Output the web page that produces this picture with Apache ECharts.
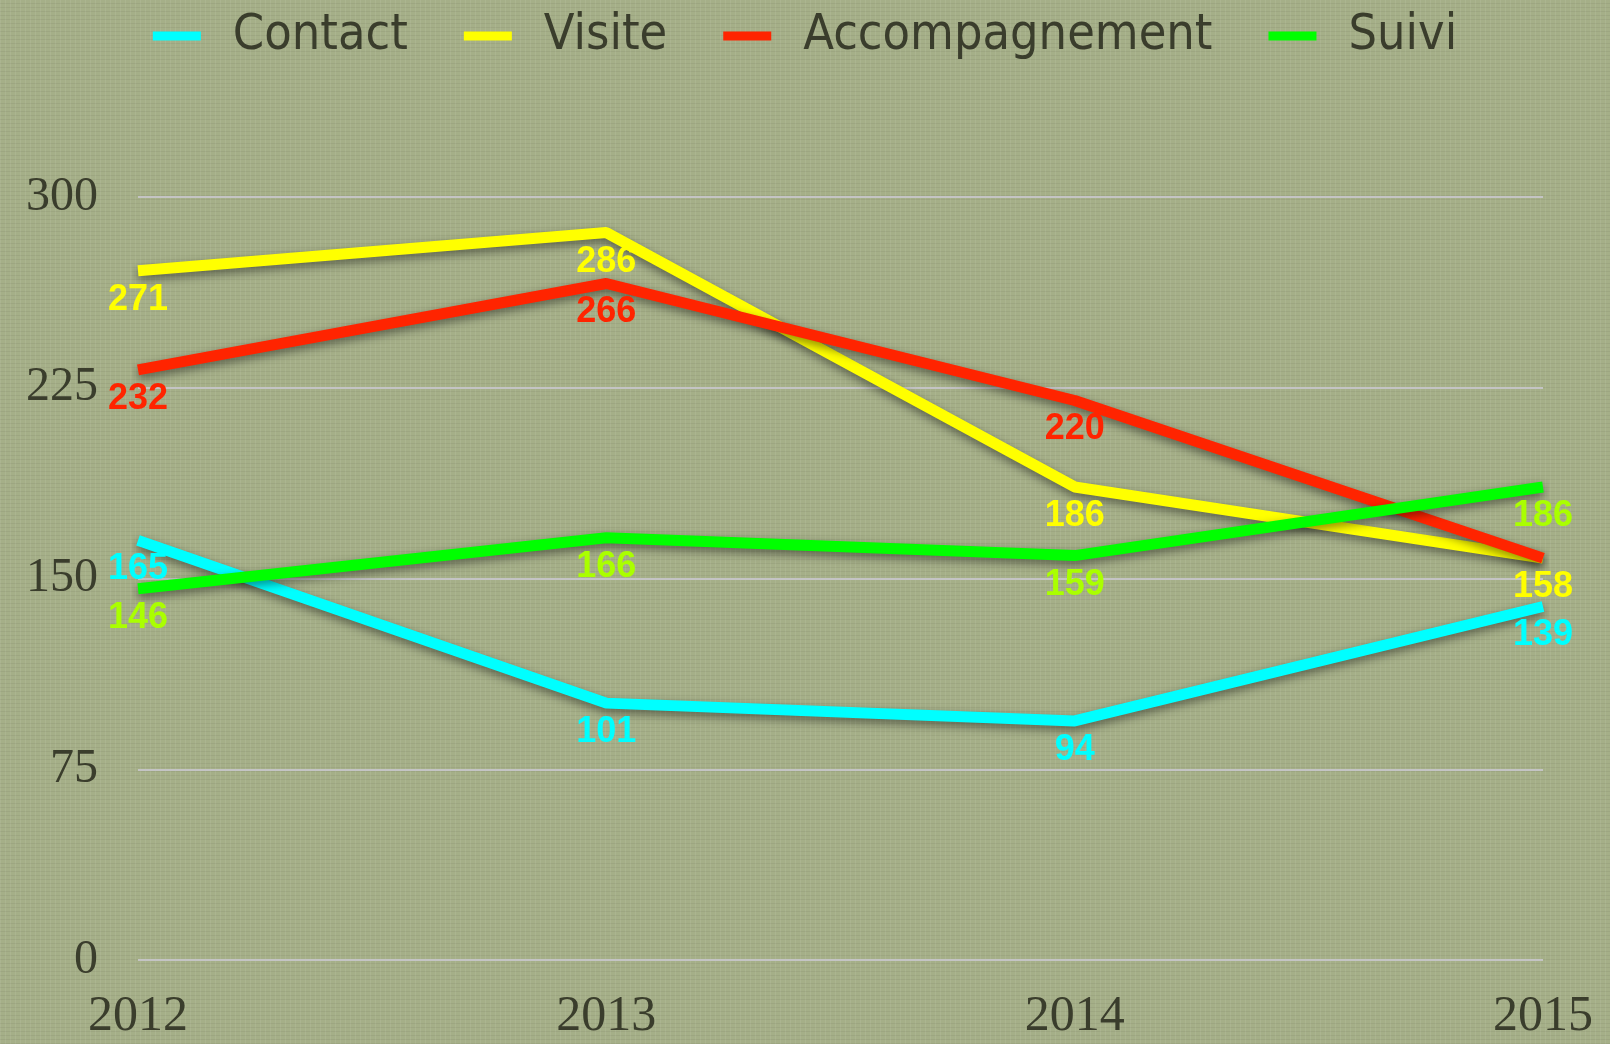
<!DOCTYPE html>
<html><head><meta charset="utf-8">
<script src="https://cdn.jsdelivr.net/npm/echarts@6/dist/echarts.min.js"></script>
<style>
html,body{margin:0;padding:0;background:#a5af88;}
#c{width:1610px;height:1044px;
background-color:#a5af88;
background-image:repeating-linear-gradient(90deg,rgba(255,255,255,0.07) 0 1px,transparent 1px 5px),repeating-linear-gradient(0deg,rgba(0,0,0,0.05) 0 1px,transparent 1px 4px);}
</style></head>
<body><div id="c"></div>
<script>
const years = ['2012','2013','2014','2015'];
const contact = [165,101,94,139];
const visite = [271,286,186,158];
const accompagnement = [232,266,220,158];
const suivi = [146,166,159,186];
const yTicks = [0,75,150,225,300];

const chart = echarts.init(document.getElementById('c'));
const textCol = '#3a3d2c';
function mk(name, data, color, labelColor, hideIdx){
  return {
    name, type:'line', data: data.map((v,i)=> i===hideIdx ? {value:v,label:{show:false}} : v),
    symbol:'circle', symbolSize:0, showSymbol:true, smooth:false,
    lineStyle:{width:11,color:color,shadowColor:'rgba(0,0,0,0.45)',shadowBlur:10,shadowOffsetY:4},
    itemStyle:{color:color},
    label:{show:true,position:'bottom',distance:11,color:labelColor,fontFamily:'Liberation Sans',fontWeight:'bold',fontSize:36},
  };
}
chart.setOption({
  animation:false,
  legend:{top:6,left:'center',itemWidth:48,itemHeight:9,itemGap:56,icon:'rect',
    textStyle:{color:textCol,fontFamily:'"Liberation Sans Narrow","DejaVu Sans Condensed","Open Sans",sans-serif',fontSize:50,padding:[0,0,0,27]}},
  grid:{left:138,right:67,top:197,bottom:84,containLabel:false},
  xAxis:{type:'category',data:years,boundaryGap:false,
    axisLine:{show:false},axisTick:{show:false},
    axisLabel:{color:textCol,fontFamily:'Liberation Serif',fontSize:50,margin:32}},
  yAxis:{type:'value',min:0,max:300,interval:75,
    axisLine:{show:false},axisTick:{show:false},
    splitLine:{lineStyle:{color:'#c4c4c4',width:2}},
    axisLabel:{color:textCol,fontFamily:'Liberation Serif',fontSize:48,margin:40,
      formatter:v=> yTicks.includes(v)? String(v):''}},
  series:[
    mk('Contact',contact,'#00ffff','#00ffff',-1),
    mk('Visite',visite,'#ffff00','#ffff00',-1),
    mk('Accompagnement',accompagnement,'#ff2400','#ff2400',3),
    mk('Suivi',suivi,'#00ff00','#aaff00',-1)
  ]
});
</script></body></html>
